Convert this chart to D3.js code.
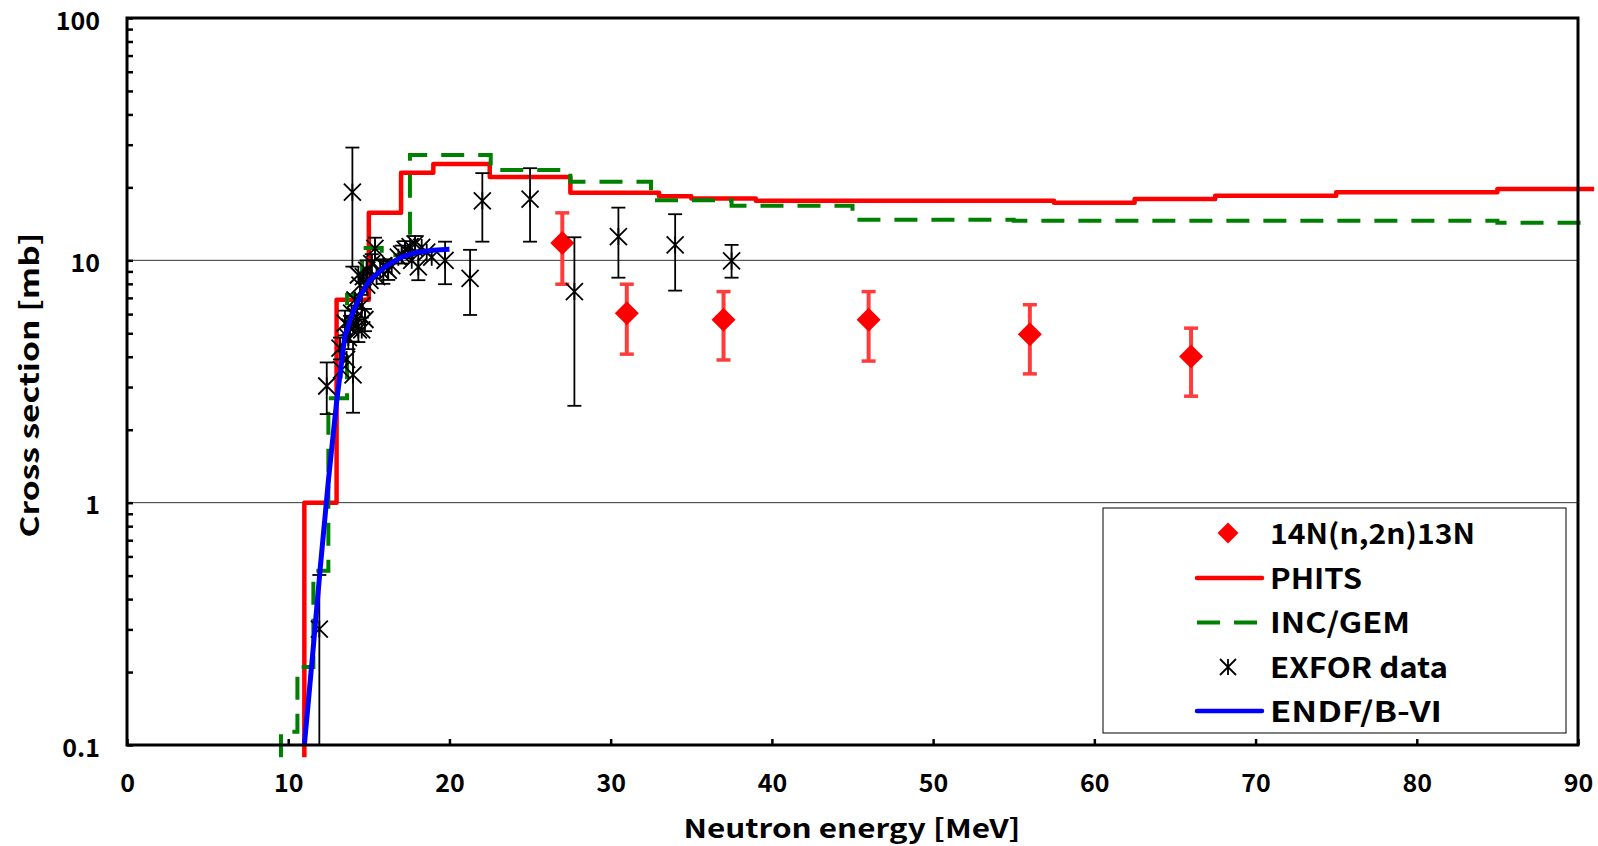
<!DOCTYPE html>
<html><head><meta charset="utf-8">
<script src="https://cdn.jsdelivr.net/npm/d3@7"></script>
<style>
body{margin:0;background:#fff}
text{font-family:"Noto Sans CJK JP","Noto Sans",sans-serif;font-weight:700;fill:#000}
</style>
</head><body>
<svg id="c" width="1598" height="846"></svg>
<script>
// ---------- data ----------
const xTicks = [0,10,20,30,40,50,60,70,80,90];
const yMajor = [0.1,1,10,100];
const yMajorLabels = ["0.1","1","10","100"];
const yMinor = [0.2,0.3,0.4,0.5,0.6,0.7,0.8,0.9,2,3,4,5,6,7,8,9,20,30,40,50,60,70,80,90];
const yGrid = [1,10];

// 14N(n,2n)13N measured
const ntE  = [27, 31, 37, 46, 56, 66];
const ntV  = [11.8, 6.05, 5.68, 5.68, 4.95, 4.01];
const ntLo = [7.97, 4.10, 3.88, 3.84, 3.40, 2.75];
const ntHi = [15.7, 7.97, 7.43, 7.43, 6.56, 5.25];

// PHITS (step, value holds from E_i to E_i+1)
const phitsE = [11, 11, 13, 15, 17, 19, 22.5, 27.5, 33, 35, 39, 57.5, 62.5, 67.5, 75, 85, 91];
const phitsV = [0.089, 1.0, 6.87, 15.7, 23.0, 25.0, 22.1, 19.0, 18.4, 18.0, 17.6, 17.3, 17.9, 18.45, 19.1, 19.7, 19.7];

// INC/GEM (step)
const incE = [9.55, 9.55, 10.57, 11.56, 12.49, 13.65, 14.58, 15.8, 17.55, 22.56, 27.5, 32.5, 37.5, 45, 55, 85, 91];
const incV = [0.089, 0.1135, 0.21, 0.524, 2.70, 7.2, 11.25, 10.5, 27.2, 23.6, 21.1, 17.7, 16.8, 14.7, 14.55, 14.3, 14.3];

// EXFOR data (lo/hi null = no error bar)
const exE  = [11.93,12.39,13.21,13.31,13.52,13.62,13.73,13.83,13.93,13.98,14.02,14.04,14.14,14.25,14.35,14.35,14.45,14.56,14.56,14.66,14.76,14.87,14.87,15.07,15.18,15.38,15.48,15.7,15.9,16.2,16.42,16.83,17.04,17.25,17.56,17.66,17.87,18.07,18.28,18.59,18.9,19.73,21.28,22.04,25.0,27.75,30.48,34.0,37.5];
const exV  = [0.301,3.03,4.34,3.53,5.5,3.9,4.8,5.3,6.05,19.1,3.37,5.5,6.86,5.86,8.7,5.16,7.9,5.16,6.5,8.57,5.7,9.1,7.9,8.27,9.7,11.2,8.57,9.1,9.5,9.1,9.5,10.3,10.6,11.1,11.4,10.0,11.7,9.4,11.3,10.8,10.3,10.0,8.43,17.6,17.9,7.43,12.53,11.58,9.94];
const exLo = [0.05,2.32,3.9,null,4.9,null,4.3,4.6,null,9.42,2.35,null,null,5.2,null,4.6,null,null,5.8,null,5.1,8.2,null,null,8.8,10.0,null,null,8.0,8.3,null,null,9.7,10.2,null,null,10.6,8.28,null,null,null,7.97,5.95,11.94,11.94,2.51,8.48,7.5,8.48];
const exHi = [0.503,3.79,4.8,null,6.2,null,5.3,5.9,null,29.2,4.62,null,null,6.5,null,5.7,null,null,7.2,null,6.3,10.0,null,null,10.6,12.4,null,null,10.1,9.9,null,null,11.5,12.0,null,null,12.6,11.0,null,null,null,11.94,11.05,22.9,24.0,12.45,16.5,15.5,11.58];

// ENDF/B-VI
const endfE = [11.0, 11.5, 12.0, 12.5, 13.0, 13.5, 14.0, 14.5, 15.0, 16.0, 17.0, 18.0, 19.0, 20.0];
const endfV = [0.1, 0.23, 0.55, 1.25, 2.6, 4.8, 6.1, 7.2, 8.2, 9.4, 10.3, 10.8, 11.0, 11.1];

const legendLabels = ["14N(n,2n)13N","PHITS","INC/GEM","EXFOR data","ENDF/B-VI"];
const xTitle = "Neutron energy [MeV]";
const yTitle = "Cross section [mb]";

// ---------- layout ----------
const L=127, R=1578, T=18, B=745;
const svg = d3.select("#c");
const x = d3.scaleLinear().domain([0,90]).range([L,R]);
const y = d3.scaleLog().domain([0.1,100]).range([B,T]);

// gridlines
svg.append("g").selectAll("line").data(yGrid).join("line")
  .attr("x1",L).attr("x2",R).attr("y1",d=>y(d)).attr("y2",d=>y(d))
  .attr("stroke","#333").attr("stroke-width",1);

// axes (ticks inward)
const gx = svg.append("g").attr("transform",`translate(0,${B})`)
  .call(d3.axisBottom(x).tickValues(xTicks).tickSize(-6).tickFormat(d3.format("d")));
gx.select(".domain").remove();
gx.selectAll(".tick line").attr("stroke","#000").attr("stroke-width",2.5);
gx.selectAll(".tick text").attr("dy",null).attr("y",47)
  .style("font-size","25px").style("font-family",'"Noto Sans CJK JP",sans-serif').style("font-weight","700").attr("fill","#000");

const yAll = yMajor.concat(yMinor);
const gy = svg.append("g").attr("transform",`translate(${L},0)`)
  .call(d3.axisLeft(y).tickValues(yAll).tickSize(-6)
    .tickFormat(d => { const i = yMajor.indexOf(d); return i>=0 ? yMajorLabels[i] : ""; }));
gy.select(".domain").remove();
gy.selectAll(".tick line").attr("stroke","#000").attr("stroke-width",2.5);
gy.selectAll(".tick text").attr("dy",null).attr("y",11).attr("x",-27)
  .style("font-size","25px").style("font-family",'"Noto Sans CJK JP",sans-serif').style("font-weight","700").attr("fill","#000");

// step lines
const toPts = (E,V) => E.map((e,i)=>[e,V[i]]);
const stepLine = d3.line().x(d=>x(d[0])).y(d=>y(d[1])).curve(d3.curveStepAfter);
const plainLine = d3.line().x(d=>x(d[0])).y(d=>y(d[1]));

// 14N error bars + diamonds
const gN = svg.append("g");
ntE.forEach((e,i)=>{
  const cx=x(e);
  gN.append("line").attr("x1",cx).attr("x2",cx).attr("y1",y(ntLo[i])).attr("y2",y(ntHi[i]))
    .attr("stroke","#ff3c3c").attr("stroke-width",4);
  [ntLo[i],ntHi[i]].forEach(v=>gN.append("line").attr("x1",cx-7).attr("x2",cx+7).attr("y1",y(v)).attr("y2",y(v))
    .attr("stroke","#ff3c3c").attr("stroke-width",3.5));
});
gN.selectAll("path").data(ntE.map((e,i)=>[e,ntV[i]])).join("path")
  .attr("transform",d=>`translate(${x(d[0])},${y(d[1])})`)
  .attr("d","M0,-12L12,0L0,12L-12,0Z").attr("fill","#ff0000");

svg.append("path").datum(toPts(phitsE,phitsV)).attr("d",stepLine)
  .attr("fill","none").attr("stroke","#ff0000").attr("stroke-width",4.5).attr("stroke-linejoin","round");
svg.append("path").datum(toPts(incE,incV)).attr("d",stepLine)
  .attr("fill","none").attr("stroke","#008000").attr("stroke-width",4).attr("stroke-dasharray","23,14");

// EXFOR
const gE = svg.append("g").attr("stroke","#000").attr("fill","none");
const clipBottom = v => Math.min(y(v), B);
exE.forEach((e,i)=>{
  const cx=x(e);
  if(exLo[i]!==null){
    const yl=clipBottom(exLo[i]), yh=y(exHi[i]);
    gE.append("line").attr("x1",cx).attr("x2",cx).attr("y1",yl).attr("y2",yh).attr("stroke-width",1.8);
    if (y(exLo[i])<=B) gE.append("line").attr("x1",cx-7).attr("x2",cx+7).attr("y1",yl).attr("y2",yl).attr("stroke-width",1.8);
    gE.append("line").attr("x1",cx-7).attr("x2",cx+7).attr("y1",yh).attr("y2",yh).attr("stroke-width",1.8);
  }
});
const astPath = h => `M${-h},${-h}L${h},${h}M${-h},${h}L${h},${-h}M0,${-h}L0,${h}`;
gE.selectAll("path").data(exE.map((e,i)=>[e,exV[i]])).join("path")
  .attr("transform",d=>`translate(${x(d[0])},${y(d[1])})`)
  .attr("d",astPath(8.5)).attr("stroke-width",1.8);

// ENDF
svg.append("path").datum(toPts(endfE,endfV)).attr("d",plainLine)
  .attr("fill","none").attr("stroke","#0000ff").attr("stroke-width",5).attr("stroke-linejoin","round");

// frame
svg.append("rect").attr("x",L).attr("y",T).attr("width",R-L).attr("height",B-T)
  .attr("fill","none").attr("stroke","#000").attr("stroke-width",3);

// legend
const lg = svg.append("g");
lg.append("rect").attr("x",1103).attr("y",508).attr("width",463).attr("height",225)
  .attr("fill","#fff").attr("stroke","#000").attr("stroke-width",1);
const rowY = [533, 578, 622.5, 667, 711];
const textW = [205, 92, 140, 178, 172];
legendLabels.forEach((t,i)=>{
  lg.append("text").attr("x",1270).attr("y",rowY[i]+10.5).text(t)
    .attr("textLength",textW[i]).attr("lengthAdjust","spacingAndGlyphs").style("font-size","28px");
});
lg.append("path").attr("transform",`translate(1228,${rowY[0]})`).attr("d","M0,-10.5L10.5,0L0,10.5L-10.5,0Z").attr("fill","#ff0000");
lg.append("line").attr("x1",1197).attr("x2",1262).attr("y1",rowY[1]).attr("y2",rowY[1]).attr("stroke","#ff0000").attr("stroke-width",4.5).attr("stroke-linecap","round");
lg.append("line").attr("x1",1197).attr("x2",1258).attr("y1",rowY[2]).attr("y2",rowY[2]).attr("stroke","#008000").attr("stroke-width",4).attr("stroke-dasharray","23,14");
lg.append("path").attr("transform",`translate(1228,${rowY[3]})`).attr("d",astPath(8)).attr("stroke","#000").attr("stroke-width",1.8).attr("fill","none");
lg.append("line").attr("x1",1197).attr("x2",1262).attr("y1",rowY[4]).attr("y2",rowY[4]).attr("stroke","#0000ff").attr("stroke-width",4.5).attr("stroke-linecap","round");

// axis titles
svg.append("text").attr("x",852).attr("y",838).attr("text-anchor","middle")
  .attr("textLength",337).attr("lengthAdjust","spacingAndGlyphs").style("font-size","26px").text(xTitle);
svg.append("text").attr("transform","translate(39,385) rotate(-90)").attr("text-anchor","middle")
  .attr("textLength",305).attr("lengthAdjust","spacingAndGlyphs").style("font-size","26px").text(yTitle);
</script>
</body></html>
